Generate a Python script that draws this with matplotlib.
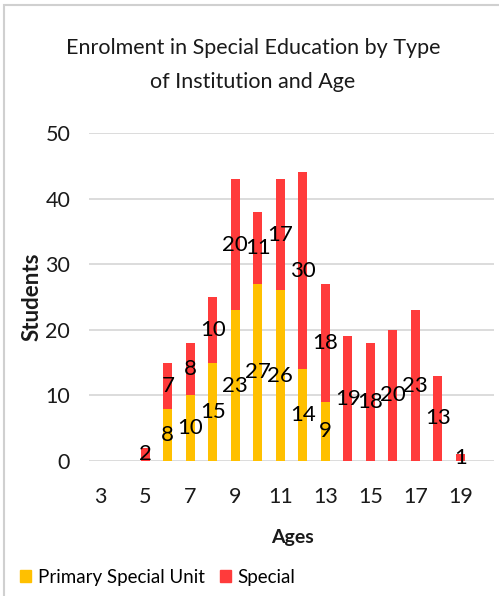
import matplotlib
matplotlib.use("Agg")
import matplotlib.pyplot as plt
from matplotlib.patches import Rectangle, Patch

plt.rcParams['font.family'] = ['Lato', 'DejaVu Sans']

ages = [3, 4, 5, 6, 7, 8, 9, 10, 11, 12, 13, 14, 15, 16, 17, 18, 19]
primary_special_unit = [0, 0, 0, 8, 10, 15, 23, 27, 26, 14, 9, 0, 0, 0, 0, 0, 0]
special = [0, 0, 2, 7, 8, 10, 20, 11, 17, 30, 18, 19, 18, 20, 23, 13, 1]
x_ticks = [3, 5, 7, 9, 11, 13, 15, 17, 19]
y_ticks = [0, 10, 20, 30, 40, 50]

c_yellow = '#FFC000'
c_red = '#FF3B3B'
grid_c = '#D9D9D9'

fig = plt.figure(figsize=(4.99, 5.96), dpi=100)
W, H = 499, 596
ax = fig.add_axes([89 / W, 1 - 461 / H, (494 - 89) / W, (461 - 133) / H])

bw = 0.4
ax.bar(ages, primary_special_unit, width=bw, color=c_yellow, zorder=3)
ax.bar(ages, special, width=bw, bottom=primary_special_unit, color=c_red, zorder=3)

for a, p, s in zip(ages, primary_special_unit, special):
    if p > 0:
        ax.text(a, p / 2, str(p), ha='center', va='center', fontsize=16, color='black', zorder=5)
    if s > 0:
        ax.text(a, p + s / 2, str(s), ha='center', va='center', fontsize=16, color='black', zorder=5)

ax.set_xlim(2.5, 20.5)
ax.set_ylim(0, 50)
ax.set_xticks(x_ticks)
ax.set_yticks(y_ticks)
ax.tick_params(axis='both', length=0, labelsize=15.5, colors='#1a1a1a')
ax.tick_params(axis='x', pad=19)
ax.tick_params(axis='y', pad=13.5)
for sp in ax.spines.values():
    sp.set_visible(False)
ax.yaxis.grid(True, color=grid_c, linewidth=1.3, zorder=0)
ax.set_axisbelow(True)

fig.text(253 / W, 1 - 48 / H, "Enrolment in Special Education by Type", ha='center', va='center',
         fontsize=15.5, color='#1a1a1a')
fig.text(253 / W, 1 - 82 / H, "of Institution and Age", ha='center', va='center',
         fontsize=15.5, color='#1a1a1a')

fig.text(32 / W, 1 - 297 / H, "Students", rotation=90, ha='center', va='center',
         fontsize=16, fontweight='bold', color='#1a1a1a')
fig.text(292 / W, 1 - 537 / H, "Ages", ha='center', va='center',
         fontsize=14, fontweight='bold', color='#1a1a1a')

handles = [Patch(color=c_yellow, label='Primary Special Unit'), Patch(color=c_red, label='Special')]
fig.legend(handles=handles, loc='center left', bbox_to_anchor=(20 / W, 1 - 577 / H), ncol=2,
           frameon=False, fontsize=13.5, handlelength=0.6, handleheight=0.6, handletextpad=0.35,
           columnspacing=0.8, borderpad=0, borderaxespad=0)

fig.patches.append(Rectangle((4 / W, -0.1), 1.2, 1 - 5 / H + 0.1, transform=fig.transFigure,
                             fill=False, edgecolor='#D0D0D0', linewidth=1.5))

fig.savefig('out.png', dpi=100)
